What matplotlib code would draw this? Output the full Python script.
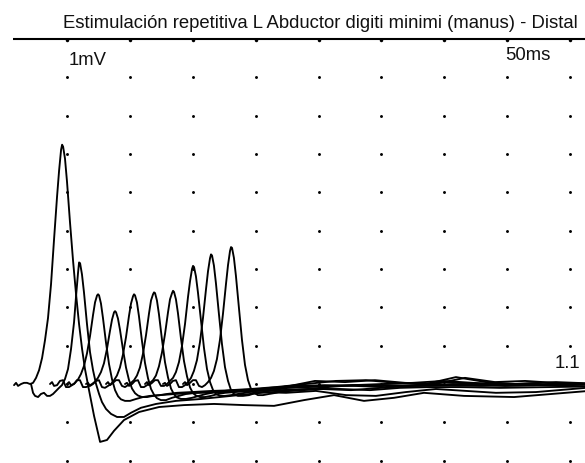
import matplotlib
matplotlib.use("Agg")
import matplotlib.pyplot as plt
import numpy as np

plt.rcParams['font.family'] = ['Liberation Sans', 'DejaVu Sans']

# ---- data -------------------------------------------------------------
title = "Estimulación repetitiva L Abductor digiti minimi (manus) - Distal"
gain_label = "1mV"
sweep_label = "50ms"
amp_label = "1.1"

grid_x_ms = [0, 5, 10, 15, 20, 25, 30, 35, 40]          # 5 ms / division
grid_y_mv = [-2, -1, 0, 1, 2, 3, 4, 5, 6, 7, 8]          # 1 mV / division
top_line_mv = 9

# sample times relative to the start of each sweep (ms)
time_rel_ms = [0, 0.16, 0.32, 0.56, 0.79, 1.03, 1.27, 1.51, 1.75, 1.99,
               2.23, 2.46, 2.70, 2.94, 3.18, 3.42, 3.58, 3.74, 3.82, 3.90,
               4.05, 4.21, 4.45, 4.69, 4.93, 5.17, 5.41, 5.64, 5.96, 6.36,
               6.84, 7.39, 7.95, 8.74, 9.94, 11.53, 13.51, 15.90, 18.28, 20.67,
               23.05, 25.44, 27.82, 30.21, 32.59, 35.77, 39.75, 45.71]

# staircase offset of each sweep (ms)
sweep_offset_ms = [-4.21, -2.86, -1.35, 0.0, 1.51, 3.10, 4.61, 6.20, 7.63, 9.22]

trace_1 = [-0.03, 0.03, -0.05, 0.00, 0.03, 0.03, 0.00, 0.03, 0.16, 0.36,
           0.68, 1.14, 1.72, 2.60, 3.77, 4.89, 5.56, 6.11, 6.24, 6.19,
           5.88, 5.28, 4.21, 3.22, 2.34, 1.56, 0.91, 0.39, -0.16, -0.83,
           -1.51, -1.46, -1.22, -0.94, -0.73, -0.60, -0.55, -0.52, -0.55, -0.57,
           -0.42, -0.29, -0.44, -0.36, -0.23, -0.31, -0.34, -0.18]
trace_2 = [0.00, -0.23, -0.31, -0.34, -0.26, -0.23, -0.31, -0.31, -0.26, -0.18,
           -0.10, -0.03, 0.13, 0.39, 0.91, 1.61, 2.29, 2.91, 3.17, 3.15,
           2.86, 2.39, 1.56, 0.83, 0.36, 0.00, -0.26, -0.47, -0.65, -0.78,
           -0.86, -0.86, -0.75, -0.62, -0.52, -0.44, -0.39, -0.31, -0.23, -0.18,
           -0.13, -0.16, -0.10, -0.05, -0.03, -0.05, -0.03, 0.00]
trace_3 = [0.00, 0.05, -0.05, -0.03, 0.08, 0.10, -0.08, -0.08, -0.03, 0.03,
           0.12, 0.26, 0.47, 0.80, 1.25, 1.80, 2.13, 2.31, 2.34, 2.31,
           2.10, 1.72, 1.08, 0.52, 0.12, -0.16, -0.32, -0.40, -0.44, -0.44,
           -0.39, -0.34, -0.31, -0.29, -0.26, -0.23, -0.21, -0.18, -0.16, -0.13,
           -0.13, -0.16, -0.10, -0.08, -0.08, -0.10, -0.08, -0.05]
trace_4 = [0.00, 0.05, -0.03, 0.00, 0.10, 0.10, -0.08, -0.08, -0.05, 0.00,
           0.06, 0.16, 0.31, 0.54, 0.92, 1.39, 1.68, 1.87, 1.90, 1.87,
           1.71, 1.42, 0.90, 0.43, 0.10, -0.12, -0.24, -0.30, -0.34, -0.34,
           -0.31, -0.29, -0.26, -0.23, -0.21, -0.18, -0.16, -0.13, -0.08, -0.05,
           -0.03, -0.03, -0.05, -0.03, 0.00, -0.03, -0.03, 0.00]
trace_5 = [0.00, 0.03, -0.05, 0.00, 0.08, 0.10, -0.08, -0.10, -0.05, 0.00,
           0.10, 0.22, 0.43, 0.77, 1.22, 1.78, 2.10, 2.29, 2.34, 2.31,
           2.13, 1.77, 1.12, 0.55, 0.15, -0.13, -0.28, -0.37, -0.42, -0.42,
           -0.36, -0.31, -0.26, -0.23, -0.21, -0.18, -0.21, -0.23, -0.18, -0.29,
           -0.31, -0.21, -0.13, -0.18, -0.23, -0.21, -0.10, -0.08]
trace_6 = [0.00, 0.05, -0.03, 0.03, 0.10, 0.10, -0.05, -0.08, -0.03, 0.03,
           0.10, 0.22, 0.43, 0.79, 1.27, 1.84, 2.18, 2.34, 2.39, 2.37,
           2.18, 1.82, 1.16, 0.57, 0.17, -0.12, -0.27, -0.35, -0.39, -0.39,
           -0.36, -0.31, -0.26, -0.21, -0.16, -0.13, -0.08, 0.00, 0.08, 0.10,
           0.03, 0.00, 0.18, 0.05, 0.00, 0.05, 0.00, 0.00]
trace_7 = [0.00, 0.03, -0.05, 0.00, 0.08, 0.10, -0.08, -0.08, -0.03, 0.03,
           0.10, 0.22, 0.46, 0.82, 1.30, 1.87, 2.21, 2.37, 2.43, 2.40,
           2.21, 1.85, 1.19, 0.60, 0.20, -0.09, -0.24, -0.30, -0.34, -0.34,
           -0.31, -0.26, -0.23, -0.21, -0.16, -0.10, -0.05, -0.03, -0.05, -0.08,
           -0.03, 0.05, 0.00, -0.05, -0.03, 0.00, 0.00, 0.00]
trace_8 = [0.00, 0.05, -0.03, 0.03, 0.10, 0.10, -0.05, -0.05, 0.00, 0.08,
           0.16, 0.31, 0.57, 0.99, 1.56, 2.27, 2.68, 3.00, 3.08, 3.05,
           2.81, 2.39, 1.66, 0.94, 0.39, 0.05, -0.16, -0.26, -0.31, -0.31,
           -0.29, -0.26, -0.23, -0.18, -0.13, -0.05, 0.08, 0.05, 0.10, 0.03,
           0.00, 0.16, 0.05, 0.08, 0.03, 0.00, 0.00, 0.00]
trace_9 = [0.00, 0.03, -0.05, 0.00, 0.08, 0.10, -0.08, -0.08, -0.03, 0.05,
           0.16, 0.34, 0.62, 1.09, 1.72, 2.47, 2.94, 3.28, 3.38, 3.35,
           3.09, 2.63, 1.82, 1.04, 0.44, 0.08, -0.16, -0.26, -0.31, -0.31,
           -0.29, -0.23, -0.21, -0.16, -0.10, -0.08, -0.05, -0.03, -0.05, -0.03,
           0.00, -0.03, 0.00, 0.03, 0.00, 0.00, 0.00, 0.00]
trace_10 = [0.00, 0.05, -0.03, 0.03, 0.10, 0.10, -0.05, -0.08, -0.03, 0.05,
            0.16, 0.34, 0.65, 1.15, 1.83, 2.61, 3.10, 3.47, 3.57, 3.55,
            3.29, 2.82, 1.98, 1.15, 0.50, 0.10, -0.13, -0.23, -0.29, -0.29,
            -0.26, -0.23, -0.18, -0.16, -0.13, -0.08, -0.03, 0.00, 0.03, 0.08,
            0.03, 0.00, -0.03, 0.00, 0.00, 0.00, 0.00, 0.00]

traces = [trace_1, trace_2, trace_3, trace_4, trace_5,
          trace_6, trace_7, trace_8, trace_9, trace_10]

# ---- figure -----------------------------------------------------------
W, H = 585, 464
fig = plt.figure(figsize=(W / 100, H / 100), dpi=100)
ax = fig.add_axes([0, 0, 1, 1])
ax.set_xlim(-5.326, 41.18)
ax.set_ylim(-2.06, 10.04)
ax.axis('off')

# dotted grid
gx, gy = np.meshgrid(grid_x_ms, grid_y_mv)
ax.plot(gx.ravel(), gy.ravel(), linestyle='none', marker='o',
        markersize=2.1, color='black', markeredgewidth=0)

# top border line with tick dots
ax.plot([-4.29, 41.18], [top_line_mv, top_line_mv], color='black', lw=1.5,
        solid_capstyle='butt')
ax.plot(grid_x_ms, [top_line_mv - 0.03] * len(grid_x_ms), linestyle='none',
        marker='o', markersize=2.5, color='black', markeredgewidth=0)

# superimposed sweeps
t_rel = np.array(time_rel_ms)
for off, tr in zip(sweep_offset_ms, traces):
    ax.plot(t_rel + off, tr, color='black', lw=1.35,
            solid_joinstyle='round', solid_capstyle='round')

# texts
fig.text(320 / W, 1 - 28 / H, title, ha='center', va='baseline',
         fontsize=13.3, color='#111111')
fig.text(69 / W, 1 - 65 / H, gain_label, ha='left', va='baseline',
         fontsize=13.3, color='#111111')
fig.text(505 / W, 1 - 60 / H, sweep_label, ha='left', va='baseline',
         fontsize=13.3, color='#111111')
fig.text(555 / W, 1 - 368 / H, amp_label, ha='left', va='baseline',
         fontsize=13.3, color='#111111')

fig.savefig('out.png', dpi=100)
